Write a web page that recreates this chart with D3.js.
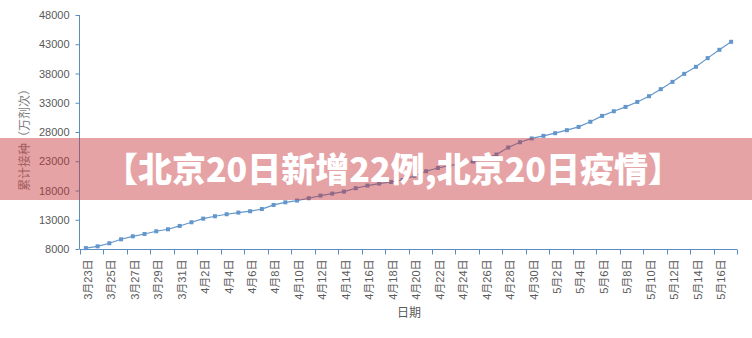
<!DOCTYPE html>
<html>
<head>
<meta charset="utf-8">
<script src="https://cdn.jsdelivr.net/npm/d3@7"></script>
<style>
  html, body { margin: 0; padding: 0; background: #fff; }
  svg { display: block; }
</style>
</head>
<body>
<svg id="chart" width="752" height="338"></svg>
<script>
const categories = [
  "3月23日","3月24日","3月25日","3月26日","3月27日","3月28日","3月29日","3月30日","3月31日",
  "4月1日","4月2日","4月3日","4月4日","4月5日","4月6日","4月7日","4月8日","4月9日","4月10日",
  "4月11日","4月12日","4月13日","4月14日","4月15日","4月16日","4月17日","4月18日","4月19日","4月20日",
  "4月21日","4月22日","4月23日","4月24日","4月25日","4月26日","4月27日","4月28日","4月29日","4月30日",
  "5月1日","5月2日","5月3日","5月4日","5月5日","5月6日","5月7日","5月8日","5月9日","5月10日",
  "5月11日","5月12日","5月13日","5月14日","5月15日","5月16日","5月17日"
];
const values = [
  8150, 8460, 8980, 9660, 10170, 10570, 11030, 11370, 11940,
  12570, 13190, 13600, 13940, 14220, 14460, 14830, 15530, 15980, 16280,
  16680, 17130, 17470, 17810, 18390, 18840, 19180, 19450, 19800, 20500,
  21300, 21850, 22250, 22600, 22950, 23500, 24150, 25350, 26250, 26900,
  27340, 27800, 28310, 28870, 29750, 30750, 31550, 32290, 33140, 34120,
  35320, 36570, 37940, 39140, 40630, 42050, 43420
];
const yTicks = [8000, 13000, 18000, 23000, 28000, 33000, 38000, 43000, 48000];
const yTitle = "累计接种（万剂次）";
const xTitle = "日期";
const bannerText = "【北京20日新增22例,北京20日疫情】";

const svg = d3.select("#chart");
const axisColor = "#5b8ec0";
const lineColor = "#6396cb";
const textColor = "#595959";
const font = "'Liberation Sans', Arial, 'Noto Sans CJK SC', sans-serif";

const x = d3.scaleBand().domain(categories).range([80, 737]).padding(0);
const y = d3.scaleLinear().domain([8000, 48000]).range([249, 15]);
const bw = x.bandwidth();

// Y axis
const yAxis = svg.append("g").attr("transform", "translate(79.5,0)")
  .call(d3.axisLeft(y).tickValues(yTicks).tickSize(4).tickPadding(6).tickFormat(d3.format("d")));
yAxis.select(".domain").attr("stroke", axisColor).attr("d", `M0,${y(48000)}V${y(8000)}`);
yAxis.selectAll(".tick line").attr("stroke", axisColor);
yAxis.selectAll(".tick text").attr("fill", textColor).style("font-family", font).style("font-size", "11px");

// X axis
const xg = svg.append("g").attr("transform", "translate(0,249.5)");
xg.append("line").attr("x1", x.range()[0]).attr("x2", x.range()[1])
  .attr("stroke", axisColor).attr("stroke-width", 1);
const tickCats = categories.filter((d, i) => i % 2 === 0);
const tickPos = tickCats.map(d => x(d)).concat([x.range()[1]]);
xg.selectAll(".xt").data(tickPos).enter().append("line")
  .attr("x1", d => Math.round(d) + 0.5).attr("x2", d => Math.round(d) + 0.5)
  .attr("y1", 0).attr("y2", 5).attr("stroke", axisColor);
xg.selectAll(".xl").data(tickCats).enter().append("text")
  .attr("transform", d => `translate(${x(d) + bw / 2 + 2},10) rotate(-90)`)
  .attr("text-anchor", "end").attr("dy", "0.35em")
  .attr("fill", textColor).style("font-family", font).style("font-size", "11px")
  .text(d => d);

// Axis titles
svg.append("text").attr("transform", "translate(25,137) rotate(-90)")
  .attr("text-anchor", "middle").attr("dy", "0.35em")
  .attr("fill", "#7f7f7f").style("font-family", font).style("font-size", "12px")
  .text(yTitle);
svg.append("text").attr("x", 409).attr("y", 313).attr("text-anchor", "middle").attr("dy", "0.35em")
  .attr("fill", textColor).style("font-family", font).style("font-size", "12px")
  .text(xTitle);

// Line
const pts = categories.map((c, i) => ({ c, v: values[i] }));
const line = d3.line().x(d => x(d.c) + bw / 2).y(d => y(d.v));
svg.append("path").datum(pts).attr("d", line)
  .attr("fill", "none").attr("stroke", lineColor).attr("stroke-width", 1.2);
svg.selectAll(".pt").data(pts).enter().append("rect")
  .attr("x", d => x(d.c) + bw / 2 - 2).attr("y", d => y(d.v) - 2)
  .attr("width", 4).attr("height", 4).attr("fill", lineColor);

// Banner overlay
svg.append("rect").attr("x", 0).attr("y", 138).attr("width", 752).attr("height", 62)
  .attr("fill", "rgba(200,50,55,0.45)");
svg.append("text").attr("x", 393).attr("y", 170).attr("text-anchor", "middle").attr("dy", "0.35em")
  .attr("fill", "#ffffff").style("font-family", "'Noto Sans CJK SC', 'Noto Sans', sans-serif")
  .style("font-weight", "900").style("font-size", "34px")
  .text(bannerText);
</script>
</body>
</html>
